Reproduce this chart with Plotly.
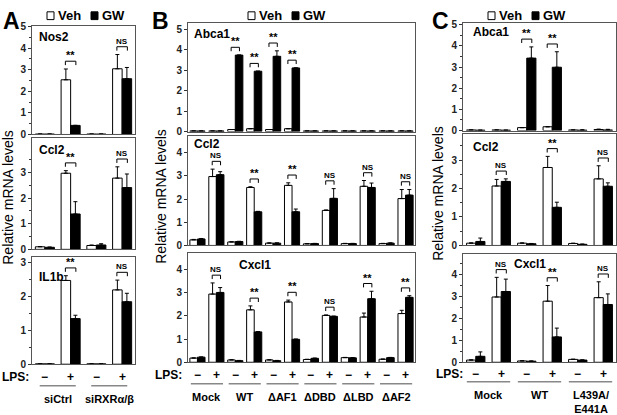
import plotly.graph_objects as go

W, H = 617, 415
FONT = "Liberation Sans, Arial, sans-serif"

lps = ["−", "+"]

# ---- panel A: siCtrl vs siRXR knockdown (4 bars pairs: -, +, -, +)
a_groups = ["siCtrl", "siRXRα/β"]
a_nos2_veh = [0.02, 2.53, 0.02, 3.04]
a_nos2_veh_err = [0, 0.50, 0, 0.66]
a_nos2_gw = [0.02, 0.42, 0.02, 2.58]
a_nos2_gw_err = [0, 0, 0, 0.52]
a_nos2_sig = ["", "**", "", "NS"]

a_ccl2_veh = [0.10, 2.97, 0.15, 2.78]
a_ccl2_veh_err = [0.01, 0.10, 0.02, 0.44]
a_ccl2_gw = [0.08, 1.38, 0.17, 2.41]
a_ccl2_gw_err = [0.01, 0.48, 0.05, 0.53]
a_ccl2_sig = ["", "**", "", "NS"]

a_il1b_veh = [0.01, 2.48, 0.01, 2.20]
a_il1b_veh_err = [0, 0.14, 0, 0.29]
a_il1b_gw = [0.01, 1.35, 0.01, 1.85]
a_il1b_gw_err = [0, 0.10, 0, 0.25]
a_il1b_sig = ["", "**", "", "NS"]

# ---- panel B: RXR deletion constructs
b_groups = ["Mock", "WT", "ΔAF1", "ΔDBD", "ΔLBD", "ΔAF2"]
b_abca1_veh = [0.03, 0.03, 0.10, 0.14, 0.10, 0.14, 0.03, 0.03, 0.03, 0.03, 0.03, 0.03]
b_abca1_veh_err = [0] * 12
b_abca1_gw = [0.03, 0.03, 3.75, 2.96, 3.69, 3.12, 0.03, 0.03, 0.03, 0.03, 0.03, 0.03]
b_abca1_gw_err = [0, 0, 0, 0, 0.27, 0, 0, 0, 0, 0, 0, 0]
b_abca1_sig = ["", "", "**", "**", "**", "**", "", "", "", "", "", ""]

b_ccl2_veh = [0.24, 2.97, 0.15, 2.50, 0.10, 2.59, 0.07, 1.51, 0.08, 2.55, 0.08, 2.02]
b_ccl2_veh_err = [0.02, 0.32, 0.01, 0.03, 0.01, 0.11, 0.01, 0.02, 0.01, 0.25, 0.01, 0.39]
b_ccl2_gw = [0.28, 3.05, 0.17, 1.45, 0.10, 1.45, 0.08, 2.03, 0.08, 2.50, 0.10, 2.17]
b_ccl2_gw_err = [0.02, 0.13, 0.01, 0.02, 0.01, 0.12, 0.01, 0.42, 0.01, 0.19, 0.01, 0.24]
b_ccl2_sig = ["", "NS", "", "**", "", "**", "", "NS", "", "NS", "", "NS"]

b_cxcl1_veh = [0.18, 2.94, 0.10, 2.26, 0.10, 2.60, 0.12, 2.02, 0.20, 1.95, 0.13, 2.10]
b_cxcl1_veh_err = [0.01, 0.48, 0.01, 0.17, 0.01, 0.08, 0.01, 0.02, 0.01, 0.17, 0.01, 0.14]
b_cxcl1_gw = [0.22, 3.01, 0.07, 1.31, 0.07, 0.99, 0.17, 1.98, 0.19, 2.74, 0.20, 2.80]
b_cxcl1_gw_err = [0.01, 0.21, 0.01, 0.01, 0.01, 0.01, 0.01, 0.01, 0.01, 0.32, 0.01, 0.07]
b_cxcl1_sig = ["", "NS", "", "**", "", "**", "", "NS", "", "**", "", "**"]

# ---- panel C: point mutant
c_groups = ["Mock", "WT", "L439A/<br>E441A"]
c_abca1_veh = [0.03, 0.03, 0.14, 0.18, 0.03, 0.05]
c_abca1_veh_err = [0, 0, 0, 0, 0, 0.02]
c_abca1_gw = [0.02, 0.02, 3.42, 2.99, 0.02, 0.03]
c_abca1_gw_err = [0, 0, 0.53, 0.73, 0.02, 0.03]
c_abca1_sig = ["", "", "**", "**", "", ""]

c_ccl2_veh = [0.08, 2.09, 0.08, 2.74, 0.07, 2.34]
c_ccl2_veh_err = [0.01, 0.23, 0.01, 0.39, 0.01, 0.46]
c_ccl2_gw = [0.14, 2.25, 0.06, 1.34, 0.04, 2.08]
c_ccl2_gw_err = [0.12, 0.09, 0.01, 0.18, 0.01, 0.12]
c_ccl2_sig = ["", "NS", "", "**", "", "NS"]

c_cxcl1_veh = [0.10, 2.96, 0.06, 2.77, 0.13, 2.93]
c_cxcl1_veh_err = [0.01, 0.89, 0.01, 0.71, 0.01, 0.72]
c_cxcl1_gw = [0.27, 3.21, 0.05, 1.15, 0.10, 2.62]
c_cxcl1_gw_err = [0.20, 0.56, 0.01, 0.40, 0.01, 0.48]
c_cxcl1_sig = ["", "NS", "", "**", "", "NS"]


def fx(px):
    return px / W


def fy(py):
    return 1 - py / H


# box = (left, right, top, bottom) in pixels; label = (x, y) pixel pos of gene name
panels = [
    dict(gene="Nos2", box=(32, 135, 22, 133), ymax=5, major=[0, 1, 2, 3, 4, 5], minor=True, w=0.37,
         label=(37, 33), veh=a_nos2_veh, veh_err=a_nos2_veh_err, gw=a_nos2_gw, gw_err=a_nos2_gw_err, sig=a_nos2_sig),
    dict(gene="Ccl2", box=(32, 135, 137, 251), ymax=4.33, major=[0, 1, 2, 3], minor=True, w=0.37,
         label=(37, 149), veh=a_ccl2_veh, veh_err=a_ccl2_veh_err, gw=a_ccl2_gw, gw_err=a_ccl2_gw_err, sig=a_ccl2_sig),
    dict(gene="IL1b", box=(32, 135, 259, 369), ymax=3.17, major=[0, 1, 2, 3], minor=True, w=0.37,
         label=(37, 279), veh=a_il1b_veh, veh_err=a_il1b_veh_err, gw=a_il1b_gw, gw_err=a_il1b_gw_err, sig=a_il1b_sig),
    dict(gene="Abca1", box=(188, 415, 19, 130), ymax=5.3, major=[0, 1, 2, 3, 4, 5], minor=False, w=0.40,
         label=(192, 30), veh=b_abca1_veh, veh_err=b_abca1_veh_err, gw=b_abca1_gw, gw_err=b_abca1_gw_err, sig=b_abca1_sig),
    dict(gene="Ccl2", box=(188, 415, 135, 247), ymax=4.7, major=[0, 1, 2, 3, 4], minor=False, w=0.40,
         label=(192, 143), veh=b_ccl2_veh, veh_err=b_ccl2_veh_err, gw=b_ccl2_gw, gw_err=b_ccl2_gw_err, sig=b_ccl2_sig),
    dict(gene="Cxcl1", box=(188, 415, 255, 367), ymax=4.7, major=[0, 1, 2, 3, 4], minor=False, w=0.40,
         label=(237, 267), veh=b_cxcl1_veh, veh_err=b_cxcl1_veh_err, gw=b_cxcl1_gw, gw_err=b_cxcl1_gw_err, sig=b_cxcl1_sig),
    dict(gene="Abca1", box=(463, 616, 18, 129), ymax=5.1, major=[0, 1, 2, 3, 4, 5], minor=True, w=0.36,
         label=(471, 28), veh=c_abca1_veh, veh_err=c_abca1_veh_err, gw=c_abca1_gw, gw_err=c_abca1_gw_err, sig=c_abca1_sig),
    dict(gene="Ccl2", box=(463, 616, 133, 247), ymax=3.9, major=[0, 1, 2, 3], minor=True, w=0.36,
         label=(471, 146), veh=c_ccl2_veh, veh_err=c_ccl2_veh_err, gw=c_ccl2_gw, gw_err=c_ccl2_gw_err, sig=c_ccl2_sig),
    dict(gene="Cxcl1", box=(463, 616, 256, 367), ymax=4.9, major=[0, 1, 2, 3, 4], minor=True, w=0.36,
         label=(512, 266), veh=c_cxcl1_veh, veh_err=c_cxcl1_veh_err, gw=c_cxcl1_gw, gw_err=c_cxcl1_gw_err, sig=c_cxcl1_sig),
]

fig = go.Figure()
shapes = []
annos = []
layout_axes = {}

for i, p in enumerate(panels, start=1):
    xa = "x" if i == 1 else f"x{i}"
    ya = "y" if i == 1 else f"y{i}"
    n = len(p["veh"])
    xs = list(range(n))
    w = p["w"]
    left, right, top, bottom = p["box"]
    dunit = p["ymax"] / (bottom - top)  # data units per pixel

    fig.add_trace(go.Bar(
        x=xs, y=p["veh"], width=w, offset=-w, xaxis=xa, yaxis=ya, showlegend=False,
        marker=dict(color="white", line=dict(color="black", width=1)),
        error_y=dict(type="data", array=p["veh_err"], arrayminus=[0] * n, symmetric=False,
                     color="black", thickness=1, width=2),
    ))
    fig.add_trace(go.Bar(
        x=xs, y=p["gw"], width=w, offset=0, xaxis=xa, yaxis=ya, showlegend=False,
        marker=dict(color="black", line=dict(color="black", width=1)),
        error_y=dict(type="data", array=p["gw_err"], arrayminus=[0] * n, symmetric=False,
                     color="black", thickness=1, width=2),
    ))

    minor = None
    if p["minor"]:
        mv = [k + 0.5 for k in range(int(p["ymax"] + 0.5)) if k + 0.5 < p["ymax"]]
        minor = dict(tickvals=mv, ticks="outside", ticklen=2, tickcolor="#333", tickwidth=1)

    layout_axes["xaxis" if i == 1 else f"xaxis{i}"] = dict(
        domain=[fx(left), fx(right)], range=[-0.5, n - 0.5], anchor=ya,
        showticklabels=False, ticks="", showgrid=False, zeroline=False,
        showline=True, mirror=True, linecolor="#555", linewidth=1,
    )
    layout_axes["yaxis" if i == 1 else f"yaxis{i}"] = dict(
        domain=[fy(bottom), fy(top)], range=[0, p["ymax"]], anchor=xa,
        tickvals=p["major"], ticks="outside", ticklen=3, tickcolor="#333",
        tickfont=dict(family=FONT, size=10, color="#222", weight="bold"),
        showgrid=False, zeroline=False,
        showline=True, mirror=True, linecolor="#555", linewidth=1,
        minor=minor,
    )

    # gene name inside the panel
    annos.append(dict(x=fx(p["label"][0]), y=fy(p["label"][1]), xref="paper", yref="paper",
                      text=p["gene"], showarrow=False, xanchor="left", yanchor="middle",
                      font=dict(family=FONT, size=12, color="black", weight="bold")))

    # significance brackets
    for k, s in enumerate(p["sig"]):
        if not s:
            continue
        tip = max(p["veh"][k] + p["veh_err"][k], p["gw"][k] + p["gw_err"][k])
        h = tip + 8 * dunit
        x0, x1 = k - w * 0.55, k + w * 0.55
        d = 4 * dunit
        shapes.append(dict(type="path", xref=xa, yref=ya,
                           path=f"M {x0},{h - d} L {x0},{h} L {x1},{h} L {x1},{h - d}",
                           line=dict(color="black", width=1)))
        annos.append(dict(x=k, y=h, xref=xa, yref=ya, text=s, showarrow=False,
                          xanchor="center", yanchor="bottom", yshift=-2 if s == "**" else -1,
                          font=dict(family=FONT, size=11 if s == "**" else 8, color="black",
                                    weight="bold")))

# bottom rows: LPS signs, underlines, group names
bottom_rows = [
    dict(ax="x3", groups=a_groups, lps_y=382, line_y=391, lab_y=397, lps_x=31, ext=0.2),
    dict(ax="x6", groups=b_groups, lps_y=380, line_y=389, lab_y=394, lps_x=184, ext=0.35),
    dict(ax="x9", groups=c_groups, lps_y=379, line_y=387, lab_y=392, lps_x=465, ext=0.35),
]
for r in bottom_rows:
    annos.append(dict(x=fx(r["lps_x"]), y=fy(r["lps_y"]), xref="paper", yref="paper", text="LPS:",
                      showarrow=False, xanchor="right", yanchor="middle",
                      font=dict(family=FONT, size=12, color="black", weight="bold")))
    for g, name in enumerate(r["groups"]):
        for j, sign in enumerate(lps):
            annos.append(dict(x=2 * g + j, y=fy(r["lps_y"]), xref=r["ax"], yref="paper", text=sign,
                              showarrow=False, xanchor="center", yanchor="middle",
                              font=dict(family=FONT, size=12, color="black", weight="bold")))
        shapes.append(dict(type="line", xref=r["ax"], yref="paper",
                           x0=2 * g - r["ext"], x1=2 * g + 1 + r["ext"],
                           y0=fy(r["line_y"]), y1=fy(r["line_y"]),
                           line=dict(color="#888", width=1.5)))
        annos.append(dict(x=2 * g + 0.5, y=fy(r["lab_y"]), xref=r["ax"], yref="paper", text=name,
                          showarrow=False, xanchor="center", yanchor="top",
                          font=dict(family=FONT, size=11, color="black", weight="bold")))

# panel letters, y titles and Veh/GW keys
for letter, lx, tx, ty, key_x in [("A", 1, 8, 198, 47), ("B", 150, 161, 197, 248), ("C", 430, 438, 194, 488)]:
    annos.append(dict(x=fx(lx), y=fy(1), xref="paper", yref="paper", text=letter, showarrow=False,
                      xanchor="left", yanchor="top",
                      font=dict(family=FONT, size=23, color="black", weight="bold")))
    annos.append(dict(x=fx(tx), y=fy(ty), xref="paper", yref="paper", text="Relative mRNA levels",
                      showarrow=False, textangle=-90, xanchor="center", yanchor="middle",
                      font=dict(family=FONT, size=14, color="black")))
    for j, (name, fill) in enumerate([("Veh", "white"), ("GW", "black")]):
        bx = key_x + j * 44
        shapes.append(dict(type="rect", xref="paper", yref="paper",
                           x0=fx(bx), x1=fx(bx + 7), y0=fy(15), y1=fy(7),
                           fillcolor=fill, line=dict(color="black", width=1)))
        annos.append(dict(x=fx(bx + 9), y=fy(11), xref="paper", yref="paper", text=name,
                          showarrow=False, xanchor="left", yanchor="middle",
                          font=dict(family=FONT, size=13, color="black", weight="bold")))

fig.update_layout(
    width=W, height=H, margin=dict(l=0, r=0, t=0, b=0),
    paper_bgcolor="white", plot_bgcolor="white",
    barmode="overlay", showlegend=False,
    shapes=shapes, annotations=annos,
    **layout_axes,
)

# drop the default page margin so the figure sits at the window's corner
fig.write_html("out.html", config={"displayModeBar": False},
               post_script="document.body.style.margin='0';")
